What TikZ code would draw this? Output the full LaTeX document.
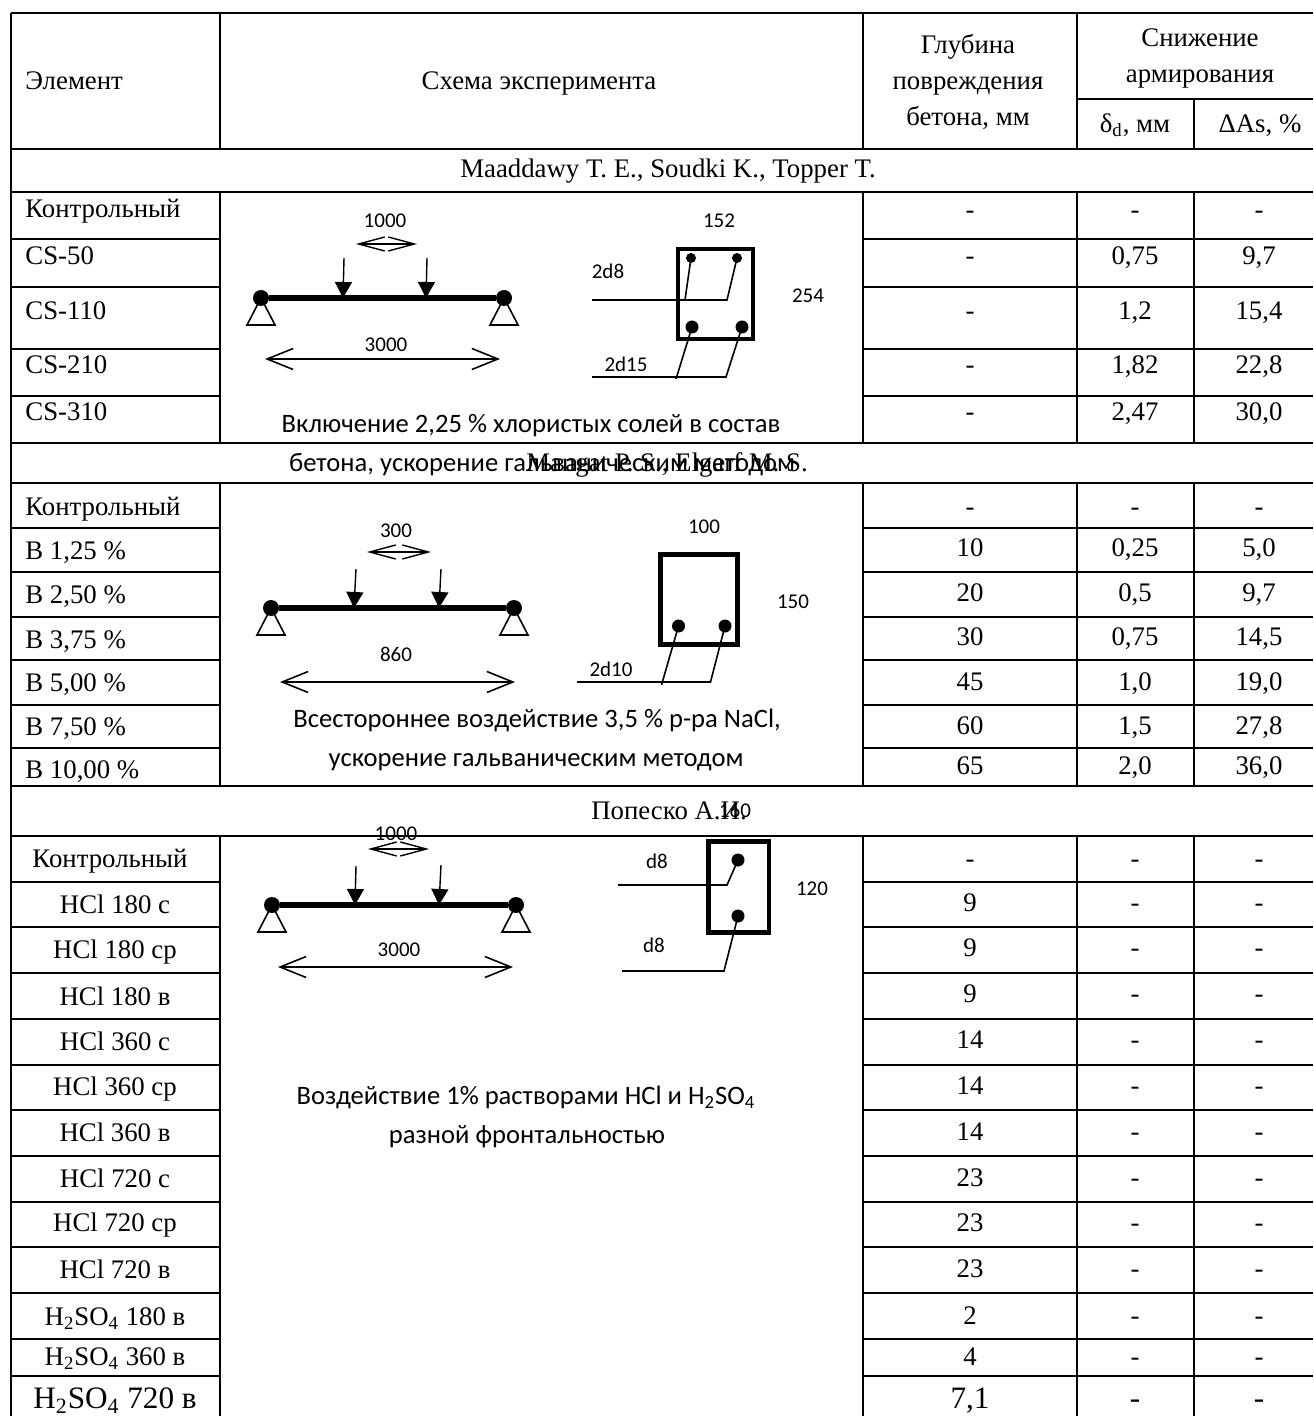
\documentclass[tikz,border=0pt]{standalone}
\usepackage{fontspec}
\setmainfont{Liberation Serif}
\newfontfamily\calibrifont{Carlito}
\usetikzlibrary{arrows.meta}
\tikzset{
  tabrule/.style={line width=1.2pt},
  tabtext/.style={inner sep=0pt,anchor=mid,yshift=-2pt,font=\fontsize{13.4}{18}\selectfont},
  tableft/.style={inner sep=0pt,anchor=mid west,yshift=-2pt,font=\fontsize{13.4}{18}\selectfont},
  bigtext/.style={inner sep=0pt,anchor=mid,yshift=-3pt,font=\fontsize{15.6}{18}\selectfont},
  skemtext/.style={inner sep=0pt,anchor=mid,yshift=-2pt,font=\calibrifont\fontsize{13.3}{14}\selectfont},
  dimtext/.style={inner sep=0pt,anchor=mid,yshift=-1.5pt,font=\calibrifont\fontsize{10.5}{12}\selectfont},
  hinge/.style={shape=circle,fill=black,inner sep=0pt,minimum size=8pt},
  rebarbig/.style={shape=circle,fill=black,inner sep=0pt,minimum size=6.5pt},
  rebarsmall/.style={shape=circle,fill=black,inner sep=0pt,minimum size=5pt},
  beamline/.style={line width=2.6pt},
  supportline/.style={line width=0.8pt},
  sectline/.style={line width=2.4pt},
  leadline/.style={line width=0.8pt},
  loadarrow/.style={line width=0.7pt,-{Triangle[length=8pt,width=8.5pt]}},
  spanarrow/.style={line width=0.8pt,{Straight Barb[length=13pt,width=10.5pt]}-{Straight Barb[length=13pt,width=10.5pt]}},
  gaparrow/.style={line width=0.7pt,{Straight Barb[length=13pt,width=7pt]}-{Straight Barb[length=13pt,width=7pt]}}
}
\newcommand{\tabhline}[3]{\draw[tabrule] ( #1 , #3 ) -- ( #2 , #3 );}
\newcommand{\tabvline}[3]{\draw[tabrule] ( #1 , #2 ) -- ( #1 , #3 );}
\newcommand{\datarow}[5]{
  \node[tabtext] (#1d) at (970,#2) {#3};
  \node[tabtext] (#1s) at (1135,#2) {#4};
  \node[tabtext] (#1p) at (1259,#2) {#5};
}
\newcommand{\supportnode}[3]{
  \node[hinge] (#1) at (#2,#3) {};
  \draw[supportline] (#1.center) -- ++(-14,27) -- ++(28,0) -- cycle;
}
\newcommand{\loadnode}[5]{
  \coordinate (#1t) at (#2,#3);
  \coordinate (#1b) at (#4,#5);
  \draw[loadarrow] (#1t) -- (#1b);
}
\newcommand{\dimnode}[5]{
  \coordinate (#1a) at (#3,#5);
  \coordinate (#1b) at (#4,#5);
  \draw[#2] (#1a) -- (#1b);
}
\newcommand{\barlead}[5]{
  \coordinate (#1a) at (#2,#4);
  \coordinate (#1b) at (#3,#4);
  \draw[leadline] (#1a) -- (#1b) -- (#5.center);
}
\begin{document}
\begin{tikzpicture}[x=0.5pt,y=-0.5pt]
    \useasboundingbox (0,0) rectangle (1313,1416);
    % outer rules
    \tabhline{11}{1313}{13}
    \tabvline{11}{13}{1416}
    % full rules
    \tabhline{11}{1313}{149}
    \tabhline{11}{1313}{192}
    \tabhline{11}{1313}{443}
    \tabhline{11}{1313}{483}
    \tabhline{11}{1313}{786}
    \tabhline{11}{1313}{836}
    \tabhline{1077}{1313}{99}
    % column rules
    \tabvline{220}{13}{149}
    \tabvline{863}{13}{149}
    \tabvline{1077}{13}{149}
    \tabvline{1194}{99}{149}
    \tabvline{220}{192}{443}
    \tabvline{863}{192}{443}
    \tabvline{1077}{192}{443}
    \tabvline{1194}{192}{443}
    \tabvline{220}{483}{786}
    \tabvline{863}{483}{786}
    \tabvline{1077}{483}{786}
    \tabvline{1194}{483}{786}
    \tabvline{220}{836}{1416}
    \tabvline{863}{836}{1416}
    \tabvline{1077}{836}{1416}
    \tabvline{1194}{836}{1416}
    % row rules, first block
    \tabhline{11}{220}{239}  \tabhline{863}{1313}{239}
    \tabhline{11}{220}{287}  \tabhline{863}{1313}{287}
    \tabhline{11}{220}{349}  \tabhline{863}{1313}{349}
    \tabhline{11}{220}{396}  \tabhline{863}{1313}{396}
    % row rules, second block
    \tabhline{11}{220}{528}  \tabhline{863}{1313}{528}
    \tabhline{11}{220}{572}  \tabhline{863}{1313}{572}
    \tabhline{11}{220}{617}  \tabhline{863}{1313}{617}
    \tabhline{11}{220}{660}  \tabhline{863}{1313}{660}
    \tabhline{11}{220}{705}  \tabhline{863}{1313}{705}
    \tabhline{11}{220}{748}  \tabhline{863}{1313}{748}
    % row rules, third block
    \tabhline{11}{220}{882}  \tabhline{863}{1313}{882}
    \tabhline{11}{220}{927}  \tabhline{863}{1313}{927}
    \tabhline{11}{220}{973}  \tabhline{863}{1313}{973}
    \tabhline{11}{220}{1019} \tabhline{863}{1313}{1019}
    \tabhline{11}{220}{1065} \tabhline{863}{1313}{1065}
    \tabhline{11}{220}{1110} \tabhline{863}{1313}{1110}
    \tabhline{11}{220}{1156} \tabhline{863}{1313}{1156}
    \tabhline{11}{220}{1202} \tabhline{863}{1313}{1202}
    \tabhline{11}{220}{1247} \tabhline{863}{1313}{1247}
    \tabhline{11}{220}{1293} \tabhline{863}{1313}{1293}
    \tabhline{11}{220}{1339} \tabhline{863}{1313}{1339}
    \tabhline{11}{220}{1376} \tabhline{863}{1313}{1376}

    % header
    \node[tableft] (helem) at (25,81) {Элемент};
    \node[tabtext] (hskem) at (539,81) {Схема эксперимента};
    \node[tabtext,align=center,anchor=center] (hdepth) at (968,78) {Глубина\\повреждения\\бетона, мм};
    \node[tabtext,align=center,anchor=center] (hdrop) at (1200,54) {Снижение\\армирования};
    \node[tabtext] (hdelta) at (1135,124) {δ\textsubscript{d}, мм};
    \node[tabtext] (harea) at (1260,124) {ΔAs, \%};
    % authors
    \node[tabtext] (auth1) at (668,169) {Maaddawy T. E., Soudki K., Topper T.};
    \node[tabtext] (auth2) at (667,463) {Mangat P. S., Elgarf M. S.};
    \node[tabtext] (auth3) at (669,811) {Попеско А.И.};

    % labels for block1
    \node[tableft] (a1) at (25,209) {Контрольный};
    \node[tableft] (a2) at (25,256) {CS-50};
    \node[tableft] (a3) at (25,311) {CS-110};
    \node[tableft] (a4) at (25,365) {CS-210};
    \node[tableft] (a5) at (25,412) {CS-310};
    \datarow{ra1}{210}{-}{-}{-}
    \datarow{ra2}{256}{-}{0,75}{9,7}
    \datarow{ra3}{311}{-}{1,2}{15,4}
    \datarow{ra4}{365}{-}{1,82}{22,8}
    \datarow{ra5}{412}{-}{2,47}{30,0}

    % labels for block2
    \node[tableft] (b1) at (25,507) {Контрольный};
    \node[tableft] (b2) at (25,551) {В 1,25 \%};
    \node[tableft] (b3) at (25,595) {В 2,50 \%};
    \node[tableft] (b4) at (25,640) {В 3,75 \%};
    \node[tableft] (b5) at (25,683) {В 5,00 \%};
    \node[tableft] (b6) at (25,727) {В 7,50 \%};
    \node[tableft] (b7) at (25,770) {В 10,00 \%};
    \datarow{rb1}{507}{-}{-}{-}
    \datarow{rb2}{548}{10}{0,25}{5,0}
    \datarow{rb3}{593}{20}{0,5}{9,7}
    \datarow{rb4}{637}{30}{0,75}{14,5}
    \datarow{rb5}{682}{45}{1,0}{19,0}
    \datarow{rb6}{726}{60}{1,5}{27,8}
    \datarow{rb7}{766}{65}{2,0}{36,0}

    % labels for block3
    \node[tabtext] (c1) at (110,859) {Контрольный};
    \node[tabtext] (c2) at (115,905) {HCl 180 с};
    \node[tabtext] (c3) at (115,950) {HCl 180 ср};
    \node[tabtext] (c4) at (115,997) {HCl 180 в};
    \node[tabtext] (c5) at (115,1042) {HCl 360 с};
    \node[tabtext] (c6) at (115,1087) {HCl 360 ср};
    \node[tabtext] (c7) at (115,1133) {HCl 360 в};
    \node[tabtext] (c8) at (115,1179) {HCl 720 с};
    \node[tabtext] (c9) at (115,1223) {HCl 720 ср};
    \node[tabtext] (c10) at (115,1270) {HCl 720 в};
    \node[tabtext] (c11) at (115,1317) {H\textsubscript{2}SO\textsubscript{4} 180 в};
    \node[tabtext] (c12) at (115,1357) {H\textsubscript{2}SO\textsubscript{4} 360 в};
    \node[bigtext] (c13) at (115,1398) {H\textsubscript{2}SO\textsubscript{4} 720 в};
    \datarow{rc1}{859}{-}{-}{-}
    \datarow{rc2}{903}{9}{-}{-}
    \datarow{rc3}{948}{9}{-}{-}
    \datarow{rc4}{994}{9}{-}{-}
    \datarow{rc5}{1040}{14}{-}{-}
    \datarow{rc6}{1086}{14}{-}{-}
    \datarow{rc7}{1132}{14}{-}{-}
    \datarow{rc8}{1178}{23}{-}{-}
    \datarow{rc9}{1223}{23}{-}{-}
    \datarow{rc10}{1269}{23}{-}{-}
    \datarow{rc11}{1316}{2}{-}{-}
    \datarow{rc12}{1357}{4}{-}{-}
    \node[bigtext] (rc13d) at (970,1398) {7,1};
    \node[bigtext] (rc13s) at (1135,1398) {-};
    \node[bigtext] (rc13p) at (1259,1398) {-};

    % scheme1
    \supportnode{ha1}{261}{298}
    \supportnode{ha2}{504}{298}
    \draw[beamline] (ha1) -- (ha2);
    \loadnode{la1}{344}{258}{343}{298}
    \loadnode{la2}{427}{258}{426}{298}
    \dimnode{da1}{gaparrow}{356}{417}{244}
    \dimnode{da2}{spanarrow}{265}{500}{359}
    \node[dimtext] (ta1) at (385,220) {1000};
    \node[dimtext] (ta2) at (386,344) {3000};
    \draw[sectline] (678,249) rectangle (753,339);
    \node[rebarsmall] (ba1) at (691,258) {};
    \node[rebarsmall] (ba2) at (737,258) {};
    \node[rebarbig] (ba3) at (692,327) {};
    \node[rebarbig] (ba4) at (742,327) {};
    \barlead{pa1}{592}{727}{300}{ba2}
    \coordinate (pa2) at (685,300);
    \draw[leadline] (pa2) -- (ba1.center);
    \barlead{pa3}{592}{726}{377}{ba4}
    \coordinate (pa4) at (676,379);
    \draw[leadline] (pa4) -- (ba3.center);
    \node[dimtext] (ta3) at (719,220) {152};
    \node[dimtext] (ta4) at (808,295) {254};
    \node[dimtext] (ta5) at (608,271) {2d8};
    \node[dimtext] (ta6) at (626,364) {2d15};
    \node[skemtext] (ta7) at (531,424) {Включение 2,25 \% хлористых солей в состав};
    \node[skemtext] (ta8) at (542,463) {бетона, ускорение гальваническим методом};

    % scheme2
    \supportnode{hb1}{271}{608}
    \supportnode{hb2}{514}{608}
    \draw[beamline] (hb1) -- (hb2);
    \loadnode{lb1}{356}{569}{354}{608}
    \loadnode{lb2}{441}{569}{439}{608}
    \dimnode{db1}{gaparrow}{367}{431}{552}
    \dimnode{db2}{spanarrow}{280}{515}{682}
    \node[dimtext] (tb1) at (396,530) {300};
    \node[dimtext] (tb2) at (396,654) {860};
    \draw[sectline] (660.5,554.5) rectangle (737.5,644.5);
    \node[rebarbig] (bb1) at (678.5,626) {};
    \node[rebarbig] (bb2) at (725,626) {};
    \barlead{pb1}{577}{710.5}{682}{bb2}
    \coordinate (pb2) at (661.5,685);
    \draw[leadline] (pb2) -- (bb1.center);
    \node[dimtext] (tb3) at (704,526) {100};
    \node[dimtext] (tb4) at (793,601) {150};
    \node[dimtext] (tb5) at (611,669) {2d10};
    \node[skemtext] (tb6) at (537,719) {Всестороннее воздействие 3,5 \% р-ра NaCl,};
    \node[skemtext] (tb7) at (536,758) {ускорение гальваническим методом};

    % scheme3
    \supportnode{hc1}{272}{905}
    \supportnode{hc2}{516}{905}
    \draw[beamline] (hc1) -- (hc2);
    \loadnode{lc1}{356}{866}{355}{905}
    \loadnode{lc2}{441}{865}{439}{905}
    \dimnode{dc1}{gaparrow}{368}{429}{849}
    \dimnode{dc2}{spanarrow}{278}{513}{967}
    \node[dimtext] (tc1) at (396,833) {1000};
    \node[dimtext] (tc2) at (399,949) {3000};
    \draw[sectline] (708.5,841.5) rectangle (769,932.5);
    \node[rebarbig] (bc1) at (738,860) {};
    \node[rebarbig] (bc2) at (738,916) {};
    \barlead{pc1}{618}{727}{885}{bc1}
    \barlead{pc2}{622}{724}{971}{bc2}
    \node[dimtext] (tc3) at (735,810) {160};
    \node[dimtext] (tc4) at (812,888) {120};
    \node[dimtext] (tc5) at (657,861) {d8};
    \node[dimtext] (tc6) at (654,945) {d8};
    \node[skemtext] (tc7) at (526,1096) {Воздействие 1\% растворами HCl и H\textsubscript{2}SO\textsubscript{4}};
    \node[skemtext] (tc8) at (527,1135) {разной фронтальностью};
\end{tikzpicture}
\end{document}
